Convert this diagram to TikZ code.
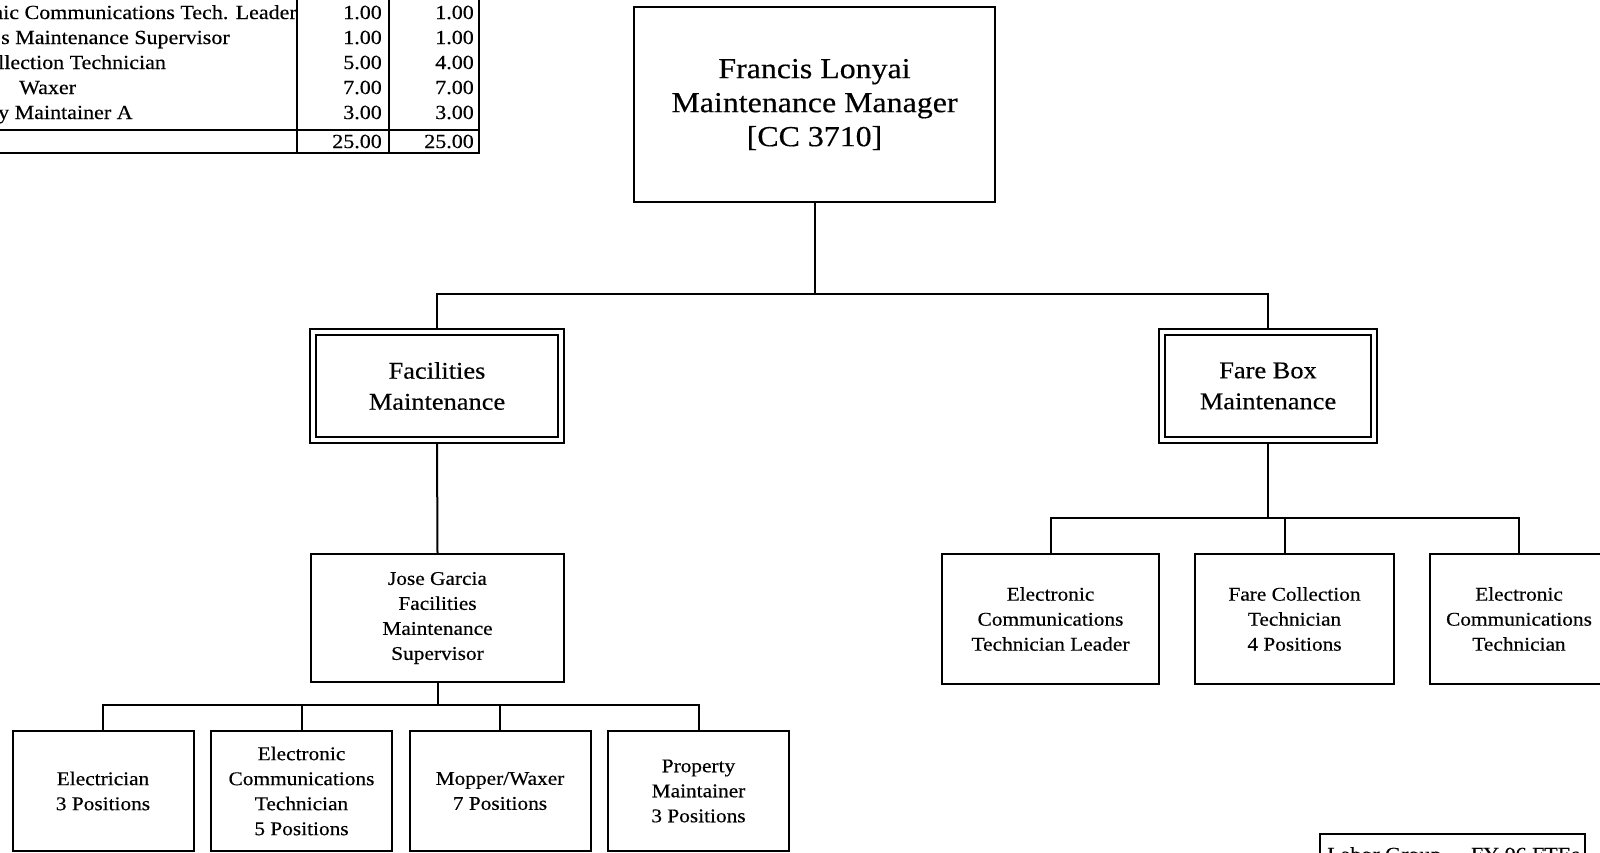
\documentclass[tikz,border=0pt]{standalone}
\usepackage{fontspec}
\setmainfont{Liberation Serif}[FakeStretch=1.1,FakeBold=0.4]
\begin{document}
\begin{tikzpicture}[x=1pt,y=-1pt,
  box/.style={draw,line width=2pt,align=center,inner sep=0pt,fill=white},
  dbox/.style={draw,line width=1.7pt,double,double distance=4pt,outer sep=3.7pt,align=center,inner sep=0pt},
  conn/.style={line width=2pt},
  tline/.style={line width=2pt},
  fbig/.style={font=\fontsize{29}{34}\selectfont},
  fmid/.style={font=\fontsize{24}{31}\selectfont},
  fsm/.style={font=\fontsize{19.4}{25}\selectfont},
  ftab/.style={font=\fontsize{20}{25}\selectfont,inner sep=0pt},
]
\useasboundingbox (0,0) rectangle (1600,852);
\clip (0,0) rectangle (1600,852);

% ---- table top-left ----
\begin{scope}
\clip (-60,0) rectangle (296,128);
\node[ftab,anchor=base west] (t1) at (-8,19) {nic Communications Tech. Leader};
\node[ftab,anchor=base west] (t2) at (1,44) {s Maintenance Supervisor};
\node[ftab,anchor=base west] (t3) at (-2,69) {llection Technician};
\node[ftab,anchor=base west] (t4) at (19,94) {Waxer};
\node[ftab,anchor=base west] (t5) at (-2,119) {y Maintainer A};
\end{scope}
\foreach \y/\a/\b [count=\i] in {19/1.00/1.00,44/1.00/1.00,69/5.00/4.00,94/7.00/7.00,119/3.00/3.00}{
  \node[ftab,anchor=base east] (na\i) at (382,\y) {\a};
  \node[ftab,anchor=base east] (nb\i) at (474,\y) {\b};
}
\node[ftab,anchor=base east] (tota) at (382,148) {25.00};
\node[ftab,anchor=base east] (totb) at (474,148) {25.00};
\draw[tline] (297,-2) -- (297,153);
\draw[tline] (389,-2) -- (389,153);
\draw[tline] (479,-2) -- (479,153);
\draw[tline] (-2,130) -- (479,130);
\draw[tline] (-2,153) -- (480,153);

% ---- org chart ----
\node[box,fbig,minimum width=361pt,minimum height=195pt] (top) at (814.5,104.5)
  {Francis Lonyai\\Maintenance Manager\\{[}CC 3710{]}};
\node[dbox,fmid,minimum width=248pt,minimum height=108pt] (fac) at (437,386)
  {Facilities\\Maintenance};
\node[dbox,fmid,minimum width=212pt,minimum height=108pt] (fare) at (1268,386)
  {Fare Box\\Maintenance};
\node[box,fsm,minimum width=253pt,minimum height=128pt] (jose) at (437.5,618)
  {Jose Garcia\\Facilities\\Maintenance\\Supervisor};

\node[box,fsm,minimum width=181pt,minimum height=120pt] (e1) at (103,791)
  {Electrician\\3 Positions};
\node[box,fsm,minimum width=181pt,minimum height=120pt] (e2) at (301.5,791)
  {Electronic\\Communications\\Technician\\5 Positions};
\node[box,fsm,minimum width=181pt,minimum height=120pt] (e3) at (500,791)
  {Mopper/Waxer\\7 Positions};
\node[box,fsm,minimum width=181pt,minimum height=120pt] (e4) at (698.5,791)
  {Property\\Maintainer\\3 Positions};

\node[box,fsm,minimum width=217pt,minimum height=130pt] (r1) at (1050.5,619)
  {Electronic\\Communications\\Technician Leader};
\node[box,fsm,minimum width=199pt,minimum height=130pt] (r2) at (1294.5,619)
  {Fare Collection\\Technician\\4 Positions};
\node[box,fsm,minimum width=178pt,minimum height=130pt] (r3) at (1519,619)
  {Electronic\\Communications\\Technician};

% labor group table (cut off)
\node[box,minimum width=265pt,minimum height=50pt] (lab) at (1452.5,859) {};
\node[ftab,anchor=base west] (labA) at (1327,861) {Labor Group};
\node[ftab,anchor=base east] (labB) at (1580,861) {FY 06 FTEs};

% connectors
\draw[conn] (top.south) -- ++(0,91) coordinate (b1);
\draw[conn] (fac.north) |- (b1) -| (fare.north);
\draw[conn] (fac.south) -- (jose.north);
\draw[conn] (jose.south) -- ++(0,22) coordinate (b2);
\draw[conn] (e1.north) |- (b2) -| (e4.north);
\draw[conn] (e2.north) -- (e2.north |- b2);
\draw[conn] (e3.north) -- (e3.north |- b2);
\draw[conn] (fare.south) -- ++(0,74) coordinate (b3);
\draw[conn] (r1.north) |- (b3) -| (r3.north);
\coordinate (d2) at (1285,554);
\draw[conn] (d2) -- (d2 |- b3);
\end{tikzpicture}
\end{document}
